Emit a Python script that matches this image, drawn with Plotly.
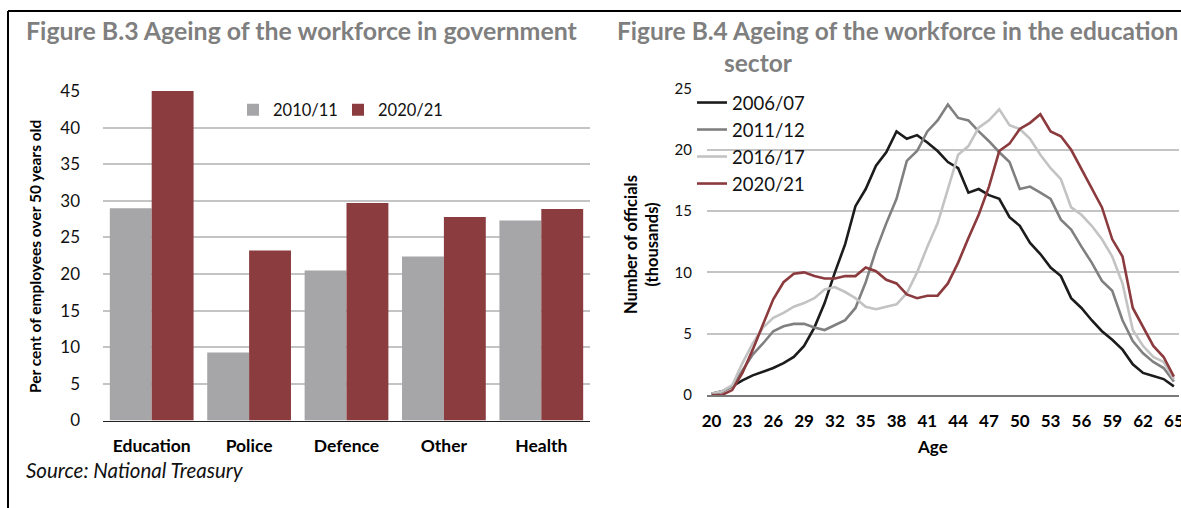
import plotly.graph_objects as go

W, H = 1181, 508

# ---------------- data ----------------
sectors = ["Education", "Police", "Defence", "Other", "Health"]
share_2010 = [29.0, 9.3, 20.5, 22.4, 27.3]
share_2020 = [45.1, 23.2, 29.7, 27.8, 28.9]

ages = list(range(20, 66))
s2006 = [0.1, 0.3, 0.7, 1.2, 1.6, 1.9, 2.2, 2.6, 3.1, 4.0,
         5.5, 7.5, 10.0, 12.3, 15.4, 16.8, 18.7, 19.8, 21.5, 20.9,
         21.2, 20.6, 19.9, 19.0, 18.5, 16.5, 16.8, 16.3, 16.0, 14.5,
         13.8, 12.4, 11.5, 10.4, 9.7, 7.9, 7.1, 6.1, 5.2, 4.5,
         3.7, 2.5, 1.8, 1.55, 1.3, 0.7]
s2011 = [0.1, 0.25, 0.7, 2.0, 3.3, 4.2, 5.2, 5.6, 5.8, 5.8,
         5.5, 5.3, 5.7, 6.1, 7.1, 9.2, 11.8, 14.0, 16.0, 19.1,
         19.9, 21.5, 22.4, 23.7, 22.6, 22.4, 21.5, 20.7, 19.8, 19.0,
         16.8, 17.0, 16.5, 16.0, 14.3, 13.5, 12.1, 10.8, 9.3, 8.5,
         6.1, 4.4, 3.4, 2.7, 2.2, 1.1]
s2016 = [0.1, 0.3, 0.8, 2.6, 4.2, 5.5, 6.3, 6.7, 7.2, 7.5,
         7.9, 8.6, 8.8, 8.4, 7.9, 7.2, 7.0, 7.2, 7.4, 8.3,
         10.0, 12.1, 14.0, 16.8, 19.6, 20.3, 21.8, 22.4, 23.3, 22.0,
         21.7, 20.9, 19.6, 18.5, 17.6, 15.3, 14.7, 13.8, 12.7, 11.3,
         9.1, 5.3, 4.0, 3.1, 2.7, 1.3]
s2020 = [0.0, 0.0, 0.4, 1.8, 3.7, 5.7, 7.8, 9.2, 9.9, 10.0,
         9.7, 9.5, 9.5, 9.7, 9.7, 10.4, 10.1, 9.4, 9.1, 8.2,
         7.9, 8.1, 8.1, 9.1, 10.8, 12.8, 14.7, 17.0, 19.9, 20.5,
         21.7, 22.2, 22.9, 21.5, 21.1, 20.0, 18.4, 16.8, 15.3, 12.7,
         11.3, 7.1, 5.5, 4.0, 3.1, 1.5]
line_names = ["2006/07", "2011/12", "2016/17", "2020/21"]
line_series = [s2006, s2011, s2016, s2020]
age_ticks = list(range(20, 66, 3))

# ---------------- style ----------------
FONT = "Lato"
GRAY_BAR = "#a6a6a9"
RED = "#8b3c3f"
line_colors = ["#1c1c1c", "#808080", "#c3c3c3", "#8b3a3e"]
GRID = "#c4c4c4"


def px(x):
    return x / W


def py(y):
    return 1 - y / H


fig = go.Figure()

fig.add_trace(go.Bar(x=sectors, y=share_2010, name="2010/11",
                     marker=dict(color=GRAY_BAR, line=dict(width=0)),
                     xaxis="x", yaxis="y", legend="legend"))
fig.add_trace(go.Bar(x=sectors, y=share_2020, name="2020/21",
                     marker=dict(color=RED, line=dict(width=0)),
                     xaxis="x", yaxis="y", legend="legend6"))

legend_names = ["legend2", "legend3", "legend4", "legend5"]
for name, vals, col, lg in zip(line_names, line_series, line_colors, legend_names):
    fig.add_trace(go.Scatter(x=ages, y=vals, name=name, mode="lines",
                             line=dict(color=col, width=2.6),
                             xaxis="x2", yaxis="y2", legend=lg))

legend_common = dict(bgcolor="rgba(0,0,0,0)", borderwidth=0,
                     font=dict(family=FONT, size=18.5, color="#111"),
                     itemwidth=30, xanchor="left", yanchor="middle")

layouts = {}
for i, lg in enumerate(legend_names):
    layouts[lg] = dict(legend_common, x=px(692), y=py(103 + 27 * i))

bar_legend = dict(legend_common, font=dict(family=FONT, size=16.5, color="#111"))
layouts["legend"] = dict(bar_legend, x=px(233), y=py(110))
layouts["legend6"] = dict(bar_legend, x=px(338), y=py(110))

fig.update_layout(
    width=W, height=H,
    margin=dict(l=0, r=0, t=0, b=0, autoexpand=False),
    paper_bgcolor="white", plot_bgcolor="white",
    font=dict(family=FONT, color="#111"),
    barmode="group", bargap=0.14, bargroupgap=0,
    showlegend=True,
    xaxis=dict(domain=[px(103), px(590)], anchor="y", automargin=False,
               showgrid=False, showline=True, linecolor="#222", linewidth=1.2,
               ticks="", tickfont=dict(family=FONT, size=17.5, color="#000", weight="bold"),
               ticklabelstandoff=9, fixedrange=True),
    yaxis=dict(domain=[py(420.5), py(91)], anchor="x", range=[0, 45], automargin=False,
               tickvals=list(range(0, 46, 5)), showgrid=True, gridcolor=GRID,
               gridwidth=1.5, zeroline=False, showline=False, ticks="",
               tickfont=dict(family=FONT, size=17, color="#111"),
               ticklabelstandoff=22, fixedrange=True),
    xaxis2=dict(domain=[px(707), px(1178.5)], anchor="y2", range=[19.55, 65.45],
                automargin=False,
                tickvals=age_ticks, showgrid=False, showline=True,
                linecolor="#7a7a7a", linewidth=1.5, zeroline=False, ticks="",
                tickfont=dict(family=FONT, size=17, color="#000", weight="bold"),
                ticklabelstandoff=10, ticklabeloverflow="allow", fixedrange=True),
    yaxis2=dict(domain=[py(395), py(88.5)], anchor="x2", range=[0, 25], automargin=False,
                tickvals=list(range(0, 26, 5)), showgrid=True, gridcolor=GRID,
                gridwidth=1.5, zeroline=False, showline=False, ticks="",
                tickfont=dict(family=FONT, size=15, color="#111"),
                ticklabelstandoff=14, fixedrange=True),
    **layouts,
)

annotations = [
    dict(text="<b>Figure B.3 Ageing of the workforce in government</b>",
         x=px(24), y=py(30), xanchor="left", yanchor="middle",
         font=dict(family=FONT, size=24.9, color="#7f7f7f")),
    dict(text="<b>Figure B.4 Ageing of the workforce in the education</b>",
         x=px(615), y=py(30), xanchor="left", yanchor="middle",
         font=dict(family=FONT, size=24.5, color="#7f7f7f")),
    dict(text="<b>sector</b>",
         x=px(722), y=py(62), xanchor="left", yanchor="middle",
         font=dict(family=FONT, size=24.5, color="#7f7f7f")),
    dict(text="<b>Per cent of employees over 50 years old</b>",
         x=px(35), y=py(257), xanchor="center", yanchor="middle", textangle=-90,
         font=dict(family=FONT, size=15.5, color="#000")),
    dict(text="<b>Number of officials<br>(thousands)</b>",
         x=px(641), y=py(245), xanchor="center", yanchor="middle", textangle=-90,
         font=dict(family=FONT, size=16.5, color="#000")),
    dict(text="<b>Age</b>",
         x=px(932), y=py(446), xanchor="center", yanchor="middle",
         font=dict(family=FONT, size=17, color="#000")),
    dict(text="<i>Source: National Treasury</i>",
         x=px(24), y=py(470), xanchor="left", yanchor="middle",
         font=dict(family=FONT, size=20.5, color="#111")),
]
for a in annotations:
    a.update(xref="paper", yref="paper", showarrow=False)
fig.update_layout(annotations=annotations)

fig.update_layout(shapes=[
    dict(type="line", xref="paper", yref="paper", x0=px(8), x1=1, y0=py(11), y1=py(11),
         line=dict(color="#000", width=2)),
    dict(type="line", xref="paper", yref="paper", x0=px(8), x1=px(8), y0=py(11), y1=0,
         line=dict(color="#000", width=2)),
])

fig.write_html("out.html")
